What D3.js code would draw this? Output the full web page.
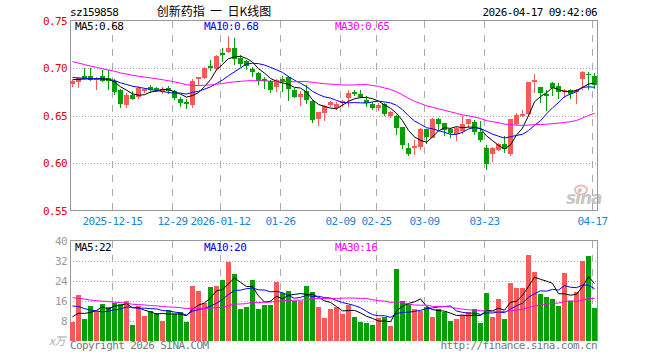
<!DOCTYPE html>
<html lang="zh">
<head>
<meta charset="UTF-8">
<title>创新药指 日K线图</title>
<script src="https://cdnjs.cloudflare.com/ajax/libs/d3/7.8.5/d3.min.js"></script>
<style>
    * { margin: 0; padding: 0; }
    body { background: #fff; width: 660px; height: 360px; overflow: hidden; }
    svg text { font-family: 'DejaVu Sans Mono', monospace; font-size: 11px; letter-spacing: -0.6px; }
    .cjk { font-family: 'Noto Sans CJK SC', sans-serif; letter-spacing: 0; }
</style>
</head>
<body>
<svg id="chart" width="660" height="360"></svg>
<script>
// daily candles, 88 sessions (2025-12-04 .. 2026-04-17)
const open = [0.6825,0.686,0.692,0.692,0.688,0.692,0.6895,0.6867,0.6773,0.6615,
    0.672,0.670,0.6755,0.680,0.679,0.675,0.679,0.6755,0.6675,0.664,
    0.6605,0.688,0.690,0.702,0.6996,0.716,0.717,0.7211,0.7105,0.707,
    0.6985,0.695,0.688,0.6864,0.6794,0.688,0.6905,0.6773,0.6696,0.6755,
    0.6657,0.6465,0.652,0.661,0.658,0.6626,0.6686,0.6752,0.673,0.6668,
    0.6623,0.658,0.6623,0.6493,0.650,0.6377,0.6161,0.6157,0.6168,0.6353,
    0.6273,0.6468,0.6416,0.636,0.630,0.6335,0.6406,0.6432,0.633,0.6155,
    0.6098,0.6144,0.6203,0.6091,0.6416,0.650,0.652,0.6853,0.6797,0.6727,
    0.6843,0.6815,0.6755,0.6765,0.6755,0.6877,0.694,0.692];
const high = [0.687,0.691,0.700,0.700,0.691,0.698,0.698,0.688,0.678,0.6735,
    0.676,0.681,0.679,0.682,0.680,0.6795,0.681,0.677,0.6696,0.667,
    0.688,0.691,0.701,0.708,0.714,0.7213,0.734,0.7318,0.714,0.708,
    0.701,0.6955,0.6905,0.687,0.688,0.6916,0.6915,0.679,0.6755,0.6825,
    0.666,0.654,0.661,0.665,0.664,0.666,0.6773,0.6765,0.6765,0.6708,
    0.6645,0.6635,0.6635,0.6545,0.6505,0.638,0.6206,0.6238,0.637,0.636,
    0.6475,0.6475,0.642,0.637,0.638,0.650,0.6468,0.645,0.644,0.6187,
    0.6165,0.6215,0.6287,0.6465,0.6525,0.656,0.6855,0.694,0.680,0.6773,
    0.685,0.684,0.678,0.678,0.678,0.6966,0.6955,0.6948];
const low = [0.681,0.680,0.688,0.687,0.678,0.686,0.678,0.6727,0.659,0.6585,
    0.667,0.668,0.6745,0.675,0.676,0.6735,0.674,0.667,0.6605,0.658,
    0.6585,0.683,0.6895,0.6975,0.699,0.7074,0.717,0.7038,0.702,0.6985,
    0.692,0.6835,0.6794,0.675,0.676,0.676,0.6665,0.6695,0.6608,0.6633,
    0.643,0.6395,0.645,0.6598,0.6565,0.6598,0.6598,0.6715,0.6695,0.6595,
    0.6565,0.6555,0.6508,0.6483,0.631,0.6155,0.608,0.6098,0.6144,0.6214,
    0.627,0.636,0.630,0.6277,0.6238,0.632,0.6383,0.6308,0.623,0.5938,
    0.6024,0.614,0.6112,0.608,0.6405,0.649,0.651,0.6748,0.664,0.6556,
    0.672,0.668,0.6696,0.6686,0.6633,0.678,0.678,0.679];
const close = [0.686,0.690,0.689,0.688,0.690,0.687,0.6865,0.6755,0.6623,0.672,
    0.668,0.679,0.678,0.6765,0.677,0.678,0.6755,0.6686,0.6633,0.6615,
    0.686,0.6905,0.7005,0.7003,0.713,0.7142,0.7213,0.709,0.7045,0.7015,
    0.695,0.6864,0.6856,0.6765,0.687,0.6864,0.678,0.6703,0.6727,0.666,
    0.6458,0.6535,0.6598,0.664,0.6623,0.665,0.6738,0.673,0.6703,0.6633,
    0.658,0.6615,0.652,0.6535,0.637,0.619,0.610,0.6178,0.6353,0.6273,
    0.6468,0.6416,0.6346,0.632,0.6364,0.6406,0.6458,0.633,0.6249,0.5987,
    0.6157,0.6203,0.6147,0.6458,0.651,0.652,0.6853,0.6877,0.6738,0.671,
    0.679,0.6755,0.6773,0.6727,0.6773,0.6955,0.6925,0.6825];
// volume, x万
const volume = [7.5,18.1,8.6,13.9,12,14.6,13.5,15.1,14.8,15.8,
    6.2,13.9,9.8,11.8,10.9,7.9,12.2,10.5,11.3,7.4,
    21.7,19.7,15.0,21.3,21.7,24.1,31.4,26.5,12.6,13.4,
    24.1,12.6,14.2,14.2,23.3,19.1,19.7,15.9,15.9,21.7,
    19.3,13.5,9.0,12.6,13.5,10.6,14.2,9.4,7.4,7.0,
    6.2,9.0,9.4,5.8,28.5,15.8,14.6,12.6,11.8,13.4,
    9.4,12.6,11.5,7.9,8.6,10.2,11.4,12.6,7.0,18.9,
    9.4,16.6,8.6,22.9,21.1,21.1,34.4,27.3,18.5,17.4,
    16.6,13.8,26.9,15.9,19.3,31.7,34.0,13.0];
// 29 sessions before the window, only used to seed the moving averages
const prevClose = [0.738,0.735,0.736,0.730,0.731,0.728,0.712,0.715,0.709,0.706,
    0.710,0.704,0.702,0.707,0.705,0.709,0.703,0.706,0.708,0.708,
    0.695,0.691,0.693,0.690,0.6925,0.689,0.686,0.688,0.6895];
const prevVolume = [24,19,26,18,22,17,23,20,21,21,
    17,15,19,14,16,18,13,17,19,16,
    20,17.5,19,16,18,11,9,12,8];

const tickIndex = [7, 17, 25, 35, 45, 51, 59, 69, 87];
const tickLabels = ['2025-12-15', '12-29', '2026-01-12', '01-26', '02-09', '02-25', '03-09', '03-23', '04-17'];
const priceTicks = [0.55, 0.60, 0.65, 0.70, 0.75];
const volumeTicks = [8, 16, 24, 32, 40];
const maPeriods = [5, 10, 30];
const maColors = ['#000000', '#0000ff', '#ff00ff'];
const priceMaLast = ['0.68', '0.68', '0.65'];
const volumeMaLast = ['22', '20', '16'];

const RED = '#f85a5a', GREEN = '#06a006', GRID = '#aaaaaa', AXIS = '#999999';
const n = close.length;

const svg = d3.select('#chart');

const x = d3.scaleBand()
    .domain(d3.range(n))
    .range([70, 597])
    .paddingInner(1 / 6)
    .paddingOuter(0);
const cx = i => x(i) + 2.5;

const yP = d3.scaleLinear().domain([0.55, 0.75]).range([210.5, 20.5]);
const yV = d3.scaleLinear().domain([0, 40]).range([340.5, 240.5]);

function movingAvg(prev, vals, p) {
    const all = prev.concat(vals);
    const off = prev.length;
    return vals.map((v, i) => d3.mean(all.slice(off + i - p + 1, off + i + 1)));
}

const up = d3.range(n).map(i => close[i] >= open[i]);

// ---------- header ----------
svg.append('text').attr('x', 70).attr('y', 16).attr('fill', '#000').text('sz159858');
svg.append('text').attr('class', 'cjk').attr('x', 214).attr('y', 16)
    .attr('text-anchor', 'middle').style('font-size', '12px')
    .attr('xml:space', 'preserve')
    .text('创新药指  一  日K线图');
svg.append('text').attr('x', 597).attr('y', 16).attr('text-anchor', 'end')
    .attr('fill', '#000').text('2026-04-17 09:42:06');

// ---------- grids ----------
function drawPanel(y, ticks, top, bottom, dottedVals, borderBottom) {
    const g = svg.append('g').attr('shape-rendering', 'crispEdges');
    g.selectAll('.hgrid').data(dottedVals).enter().append('line')
        .attr('x1', 70).attr('x2', 597)
        .attr('y1', d => Math.round(y(d)) + 0.5).attr('y2', d => Math.round(y(d)) + 0.5)
        .attr('stroke', GRID).attr('stroke-dasharray', '1,2');
    g.selectAll('.vgrid').data(tickIndex).enter().append('line')
        .attr('x1', d => x(d) + 0.5).attr('x2', d => x(d) + 0.5)
        .attr('y1', top).attr('y2', bottom)
        .attr('stroke', GRID).attr('stroke-width', 1.5).attr('stroke-dasharray', '7,7');
    g.append('line').attr('x1', 70).attr('x2', 597.5).attr('y1', top).attr('y2', top).attr('stroke', AXIS);
    g.append('line').attr('x1', 70.5).attr('x2', 70.5).attr('y1', top).attr('y2', bottom).attr('stroke', AXIS);
    g.append('line').attr('x1', 597.5).attr('x2', 597.5).attr('y1', top).attr('y2', bottom).attr('stroke', AXIS);
    if (borderBottom) {
        g.append('line').attr('x1', 70).attr('x2', 597.5).attr('y1', bottom).attr('y2', bottom).attr('stroke', AXIS);
    }
}
drawPanel(yP, priceTicks, 20.5, 210.5, [0.60, 0.65, 0.70], true);
drawPanel(yV, volumeTicks, 240.5, 340.5, [8, 16, 24, 32], false);

// price axis labels
svg.append('g').selectAll('text').data(priceTicks).enter().append('text')
    .attr('x', 67).attr('y', d => yP(d) + 4).attr('text-anchor', 'end')
    .attr('fill', '#e60000').text(d => d.toFixed(2));
// volume axis labels
svg.append('g').selectAll('text').data(volumeTicks).enter().append('text')
    .attr('x', 67).attr('y', d => yV(d) + 4).attr('text-anchor', 'end')
    .attr('fill', '#999').text(d => d);
svg.append('text').attr('class', 'cjk').attr('x', 49).attr('y', 345)
    .attr('fill', '#aaa').style('font-size', '11px').style('font-style', 'italic').text('x万');

// date labels
svg.append('g').selectAll('text').data(tickIndex).enter().append('text')
    .attr('x', d => x(d) + 0.5).attr('y', 225).attr('text-anchor', 'middle')
    .attr('fill', '#1a86d6').text((d, i) => tickLabels[i]);

// sina watermark
const wm = svg.append('g').attr('opacity', 0.55);
wm.append('ellipse').attr('cx', 581).attr('cy', 190).attr('rx', 6).attr('ry', 4.5)
    .attr('fill', 'none').attr('stroke', '#e08080').attr('stroke-width', 2);
wm.append('circle').attr('cx', 580).attr('cy', 190).attr('r', 1.8).attr('fill', '#808080');
wm.append('text').attr('x', 566).attr('y', 204)
    .style('font-family', 'DejaVu Sans, sans-serif').style('font-size', '17px')
    .style('font-style', 'italic').style('font-weight', 'bold').style('letter-spacing', '-1px')
    .attr('fill', '#999').text('sina');

// ---------- candles ----------
const candles = svg.append('g').attr('shape-rendering', 'crispEdges');
candles.selectAll('.wick').data(d3.range(n)).enter().append('line')
    .attr('x1', cx).attr('x2', cx)
    .attr('y1', i => Math.round(yP(high[i]))).attr('y2', i => Math.round(yP(low[i])) + 1)
    .attr('stroke', i => up[i] ? RED : GREEN);
candles.selectAll('.body').data(d3.range(n)).enter().append('rect')
    .attr('x', i => x(i)).attr('width', x.bandwidth())
    .attr('y', i => Math.round(yP(Math.max(open[i], close[i]))))
    .attr('height', i => Math.max(1, Math.round(Math.abs(yP(open[i]) - yP(close[i])))))
    .attr('fill', i => up[i] ? RED : GREEN);

// ---------- volume bars ----------
svg.append('g').attr('shape-rendering', 'crispEdges')
    .selectAll('rect').data(d3.range(n)).enter().append('rect')
    .attr('x', i => x(i)).attr('width', x.bandwidth())
    .attr('y', i => Math.round(yV(volume[i])))
    .attr('height', i => 341 - Math.round(yV(volume[i])))
    .attr('fill', i => up[i] ? RED : GREEN);

// ---------- moving averages ----------
maPeriods.forEach((p, k) => {
    const pm = movingAvg(prevClose, close, p);
    const vm = movingAvg(prevVolume, volume, p);
    svg.append('path').datum(pm)
        .attr('d', d3.line().x((d, i) => cx(i)).y(d => yP(d)))
        .attr('fill', 'none').attr('stroke', maColors[k]).attr('stroke-width', 1);
    svg.append('path').datum(vm)
        .attr('d', d3.line().x((d, i) => cx(i)).y(d => yV(d)))
        .attr('fill', 'none').attr('stroke', maColors[k]).attr('stroke-width', 1);
});

// ---------- MA legends ----------
const legendX = [75, 204, 335];
maPeriods.forEach((p, k) => {
    svg.append('text').attr('x', legendX[k]).attr('y', 30).attr('fill', maColors[k])
        .text('MA' + p + ':' + priceMaLast[k]);
    svg.append('text').attr('x', legendX[k]).attr('y', 251).attr('fill', maColors[k])
        .text('MA' + p + ':' + volumeMaLast[k]);
});

// footer
svg.append('text').attr('x', 70).attr('y', 349).attr('fill', '#777').text('Copyright 2026 SINA.COM');
svg.append('text').attr('x', 597).attr('y', 349).attr('text-anchor', 'end')
    .attr('fill', '#777').text('http://finance.sina.com.cn');
</script>
</body>
</html>
